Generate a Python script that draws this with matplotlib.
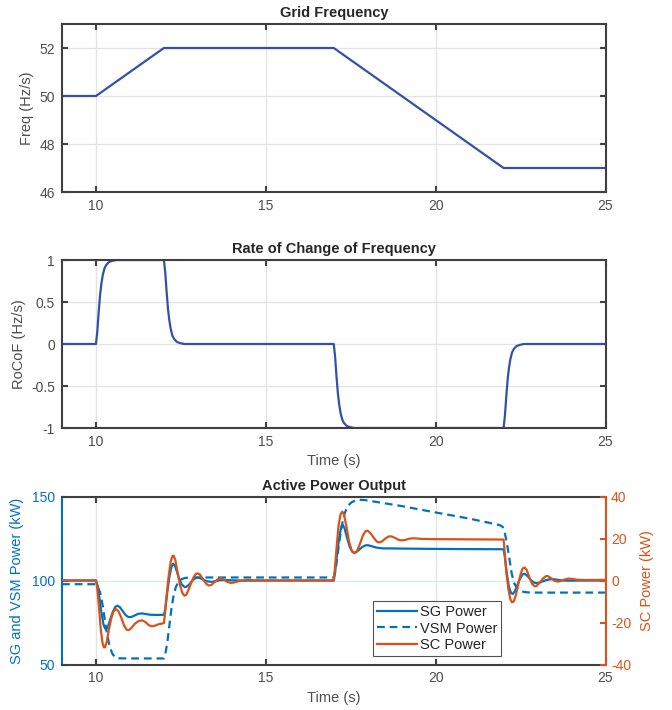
import matplotlib
matplotlib.use("Agg")
import matplotlib.pyplot as plt

plt.rcParams['font.family'] = ['Liberation Sans', 'DejaVu Sans']
plt.rcParams['axes.unicode_minus'] = False

# ---------------- data ----------------
freq_t = [9, 10, 12, 17, 22, 25]
freq_v = [50, 50, 52, 52, 47, 47]

rocof_t = [9, 10.0, 10.04, 10.08, 10.12, 10.16, 10.2, 10.25, 10.3, 10.38, 10.48, 10.6,
           12.0, 12.04, 12.08, 12.12, 12.16, 12.2, 12.25, 12.3, 12.38, 12.48, 12.6,
           17.0, 17.04, 17.08, 17.12, 17.16, 17.2, 17.25, 17.3, 17.38, 17.48, 17.6,
           22.0, 22.04, 22.08, 22.12, 22.16, 22.2, 22.25, 22.3, 22.38, 22.48, 22.6, 25]
rocof_v = [0, 0, 0.15, 0.38, 0.58, 0.72, 0.82, 0.9, 0.94, 0.975, 0.99, 1.0,
           1.0, 0.85, 0.62, 0.42, 0.28, 0.18, 0.1, 0.06, 0.025, 0.01, 0.0,
           0.0, -0.15, -0.38, -0.58, -0.72, -0.82, -0.9, -0.94, -0.975, -0.99, -1.0,
           -1.0, -0.85, -0.62, -0.42, -0.28, -0.18, -0.1, -0.06, -0.025, -0.01, 0.0, 0.0]

sg_t = [9, 10, 10.05, 10.1, 10.16, 10.22, 10.27, 10.31, 10.36, 10.43, 10.5, 10.57,
        10.63, 10.7, 10.78, 10.87, 10.95, 11.03, 11.12, 11.25, 11.35, 11.45, 11.6, 11.8,
        12.0, 12.04, 12.1, 12.16, 12.22, 12.27, 12.32, 12.38, 12.45, 12.52, 12.6, 12.66,
        12.74, 12.84, 12.93, 13.0, 13.08, 13.18, 13.3, 13.4, 13.52, 13.65, 13.8, 14.0,
        14.4, 15, 17, 17.04, 17.1, 17.17, 17.23, 17.27, 17.32, 17.39, 17.47, 17.55,
        17.63, 17.72, 17.83, 17.93, 18.0, 18.1, 18.25, 18.45, 18.7, 19, 20, 21,
        22, 22.03, 22.09, 22.16, 22.22, 22.27, 22.33, 22.4, 22.48, 22.56, 22.62, 22.7,
        22.8, 22.9, 22.98, 23.08, 23.2, 23.35, 23.48, 23.62, 23.8, 24.0, 24.5, 25]
sg_v = [100, 100, 97, 90, 81, 74, 71.3, 71.2, 73, 77.5, 81.5, 84.3,
        85, 84.2, 82, 79.5, 78.3, 78.2, 79, 80.2, 80.4, 80.1, 79.6, 79.5,
        79.6, 83, 93, 102, 108, 110, 109, 105.5, 101, 97.8, 96.2, 96.2,
        97.5, 100, 101.5, 101.8, 101.3, 100.2, 99.4, 99.2, 99.6, 100.2, 100.3, 100.1,
        99.9, 100, 100, 105, 116, 127, 132.5, 133, 131, 125.5, 120, 117,
        116.6, 117.8, 119.8, 120.9, 121, 120.5, 119.6, 119.1, 119.1, 119, 118.8, 118.7,
        118.6, 115, 105, 96, 92.5, 92, 93.5, 97, 101, 103.6, 104, 102.8,
        100.3, 98.7, 98.4, 98.9, 99.9, 100.7, 100.8, 100.3, 99.9, 99.9, 100, 100]

vsm_t = [9.0, 10.0, 10.05, 10.12, 10.2, 10.3, 10.4, 10.48, 10.56, 10.65, 11.0, 12.0,
         12.04, 12.1, 12.16, 12.22, 12.28, 12.35, 12.43, 12.52, 12.62, 12.75, 13.0, 15.0,
         17.0, 17.04, 17.1, 17.17, 17.25, 17.33, 17.42, 17.52, 17.63, 17.75, 17.9, 18.0,
         19.0, 20.0, 21.0, 21.7, 21.88, 21.97, 22.03, 22.1, 22.17, 22.24, 22.31, 22.4,
         22.5, 22.62, 22.8, 23.0, 25.0]
vsm_v = [97.8, 97.8, 96.5, 93, 85, 71, 61, 56.5, 54.3, 53.7, 53.6, 53.6,
         56, 63, 73, 83, 90.5, 96, 99.3, 100.8, 101.5, 101.8, 101.8, 101.8,
         101.8, 105, 113, 124, 134, 140.5, 144.5, 146.5, 147.6, 148, 147.9, 147.6,
         144.3, 140.5, 136.8, 133.8, 133, 132, 129, 122, 113, 104, 98.5, 95.2,
         93.7, 93.1, 92.8, 92.8, 92.8]

sc_t = [9.0, 10.0, 10.04, 10.09, 10.14, 10.19, 10.23, 10.27, 10.32, 10.38, 10.45, 10.52,
        10.59, 10.66, 10.74, 10.83, 10.9, 10.97, 11.05, 11.15, 11.27, 11.36, 11.45, 11.55,
        11.64, 11.72, 11.85, 12.0, 12.03, 12.08, 12.14, 12.2, 12.25, 12.29, 12.34, 12.4,
        12.47, 12.54, 12.6, 12.66, 12.74, 12.83, 12.92, 12.98, 13.05, 13.14, 13.24, 13.32,
        13.4, 13.5, 13.6, 13.67, 13.75, 13.86, 13.97, 14.08, 14.25, 14.45, 14.7, 15.0,
        17.0, 17.03, 17.08, 17.14, 17.2, 17.25, 17.3, 17.37, 17.45, 17.53, 17.6, 17.67,
        17.76, 17.86, 17.94, 18.0, 18.08, 18.18, 18.27, 18.34, 18.42, 18.52, 18.62, 18.7,
        18.8, 18.92, 19.0, 19.1, 19.22, 19.33, 19.45, 19.6, 20.0, 21.0, 22.0, 22.03,
        22.08, 22.14, 22.2, 22.25, 22.3, 22.36, 22.43, 22.5, 22.56, 22.62, 22.68, 22.76,
        22.84, 22.92, 22.98, 23.07, 23.16, 23.25, 23.3, 23.38, 23.48, 23.58, 23.65, 23.78,
        23.9, 24.0, 24.15, 24.4, 25.0]
sc_v = [0, 0, -4, -13, -23, -29.5, -31.8, -31.8, -29, -23.5, -18, -14.6,
        -13.6, -14.5, -17.5, -21.5, -23.4, -23.6, -22.5, -20.5, -19.2, -19, -19.7, -21.2,
        -21.8, -21.6, -20.8, -20.3, -16, -7, 2, 9, 11.6, 11.8, 9.5, 4,
        -2, -5.8, -7.2, -6.8, -3.8, 0, 2.8, 3.4, 3, 1, -1.5, -2.4,
        -2.1, -0.6, 0.8, 1.1, 0.6, -0.6, -1.2, -0.9, -0.1, 0.3, 0.1, 0,
        0, 5, 15, 26, 31.5, 32.8, 31.5, 26, 18.5, 14.2, 13, 13.6,
        17, 21.5, 23.6, 23.7, 22.6, 20.3, 18.5, 18.1, 18.6, 20, 21, 21,
        20.3, 19.3, 19.1, 19.3, 19.9, 20.1, 20, 19.8, 19.7, 19.6, 19.5, 14,
        4, -4, -9, -10.4, -10, -7, -2, 3, 5.7, 6.2, 5, 1.5,
        -1.6, -2.8, -2.5, -0.8, 1, 2.1, 2.1, 1.3, 0, -0.5, -0.4, 0.4,
        0.9, 0.8, 0.4, 0.2, 0.3]

# ---------------- style ----------------
LINE = '#3351A6'
BLUE = '#0072BD'
ORANGE = '#D95319'
SPINE = '#404040'
TICK = '#4D4D4D'
GRID = '#E3E3E3'
FS = 10

fig = plt.figure(figsize=(6.72, 7.10), dpi=100)
W, H = 672, 710
def pos(l, t, r, b):
    return [l / W, 1 - b / H, (r - l) / W, (b - t) / H]

def style(ax):
    for s in ax.spines.values():
        s.set_color(SPINE)
        s.set_linewidth(1.5)
    ax.tick_params(direction='in', length=4, width=1.5, colors=SPINE,
                   labelcolor=TICK, labelsize=FS, top=True, right=True, pad=5)
    ax.grid(True, color=GRID, linewidth=0.9)
    ax.set_axisbelow(True)
    ax.set_xlim(9, 25)
    ax.set_xticks([10, 15, 20, 25])

# Panel 1
ax1 = fig.add_axes(pos(62, 24, 605.5, 192))
style(ax1)
ax1.plot(freq_t, freq_v, color=LINE, lw=1.6)
ax1.set_ylim(46, 53)
ax1.set_yticks([46, 48, 50, 52])
ax1.set_ylabel('Freq (Hz/s)', fontsize=10.5, color=TICK)
ax1.set_title('Grid Frequency', fontsize=10.5, fontweight='bold', color='#262626', pad=5)

# Panel 2
ax2 = fig.add_axes(pos(62, 260, 605.5, 428))
style(ax2)
ax2.plot(rocof_t, rocof_v, color=LINE, lw=1.6)
ax2.set_ylim(-1, 1)
ax2.set_yticks([-1, -0.5, 0, 0.5, 1])
ax2.set_yticklabels(['-1', '-0.5', '0', '0.5', '1'])
ax2.set_ylabel('RoCoF (Hz/s)', fontsize=10.5, color=TICK)
ax2.set_xlabel('Time (s)', fontsize=10.5, color=TICK, labelpad=4)
ax2.set_title('Rate of Change of Frequency', fontsize=10.5, fontweight='bold', color='#262626', pad=5)

# Panel 3
ax3 = fig.add_axes(pos(62, 496.5, 605.5, 664.5))
style(ax3)
ax3.grid(True, axis='y', color='#D6E8F5', linewidth=0.9)
ax3.tick_params(right=False)
ax3.set_ylim(50, 150)
ax3.set_yticks([50, 100, 150])
ax3.spines['left'].set_color(BLUE)
ax3.spines['right'].set_visible(False)
ax3.tick_params(axis='y', colors=BLUE, labelcolor=BLUE)
ax3.set_ylabel('SG and VSM Power (kW)', fontsize=10.5, color=BLUE, labelpad=6)
ax3.set_xlabel('Time (s)', fontsize=10.5, color=TICK, labelpad=4)
ax3.set_title('Active Power Output', fontsize=10.5, fontweight='bold', color='#262626', pad=5)
l_sg, = ax3.plot(sg_t, sg_v, color=BLUE, lw=1.6, label='SG Power')
l_vsm, = ax3.plot(vsm_t, vsm_v, color=BLUE, lw=1.6, ls=(0, (3.5, 2.2)), label='VSM Power')

ax4 = ax3.twinx()
ax4.set_ylim(-40, 40)
ax4.set_yticks([-40, -20, 0, 20, 40])
for k, s in ax4.spines.items():
    s.set_visible(k == 'right')
ax4.spines['right'].set_color(ORANGE)
ax4.spines['right'].set_linewidth(1.5)
ax4.tick_params(axis='y', direction='in', length=4, width=1.5, colors=ORANGE,
                labelcolor=ORANGE, labelsize=FS, pad=4)
ax4.set_ylabel('SC Power (kW)', fontsize=10.5, color=ORANGE, labelpad=6)
l_sc, = ax4.plot(sc_t, sc_v, color=ORANGE, lw=1.6, label='SC Power')

leg = ax4.legend(handles=[l_sg, l_vsm, l_sc], loc='upper left',
                 bbox_to_anchor=((373 - 62) / (605.5 - 62), (664.5 - 601) / (664.5 - 496.5)),
                 fontsize=10.5, frameon=True, fancybox=False, edgecolor='#262626',
                 borderpad=0.25, labelspacing=0.2, handlelength=2.8, handletextpad=0.15,
                 borderaxespad=0)
leg.get_frame().set_linewidth(0.8)
for t in leg.get_texts():
    t.set_color('#262626')

fig.savefig('out.png', dpi=100)
